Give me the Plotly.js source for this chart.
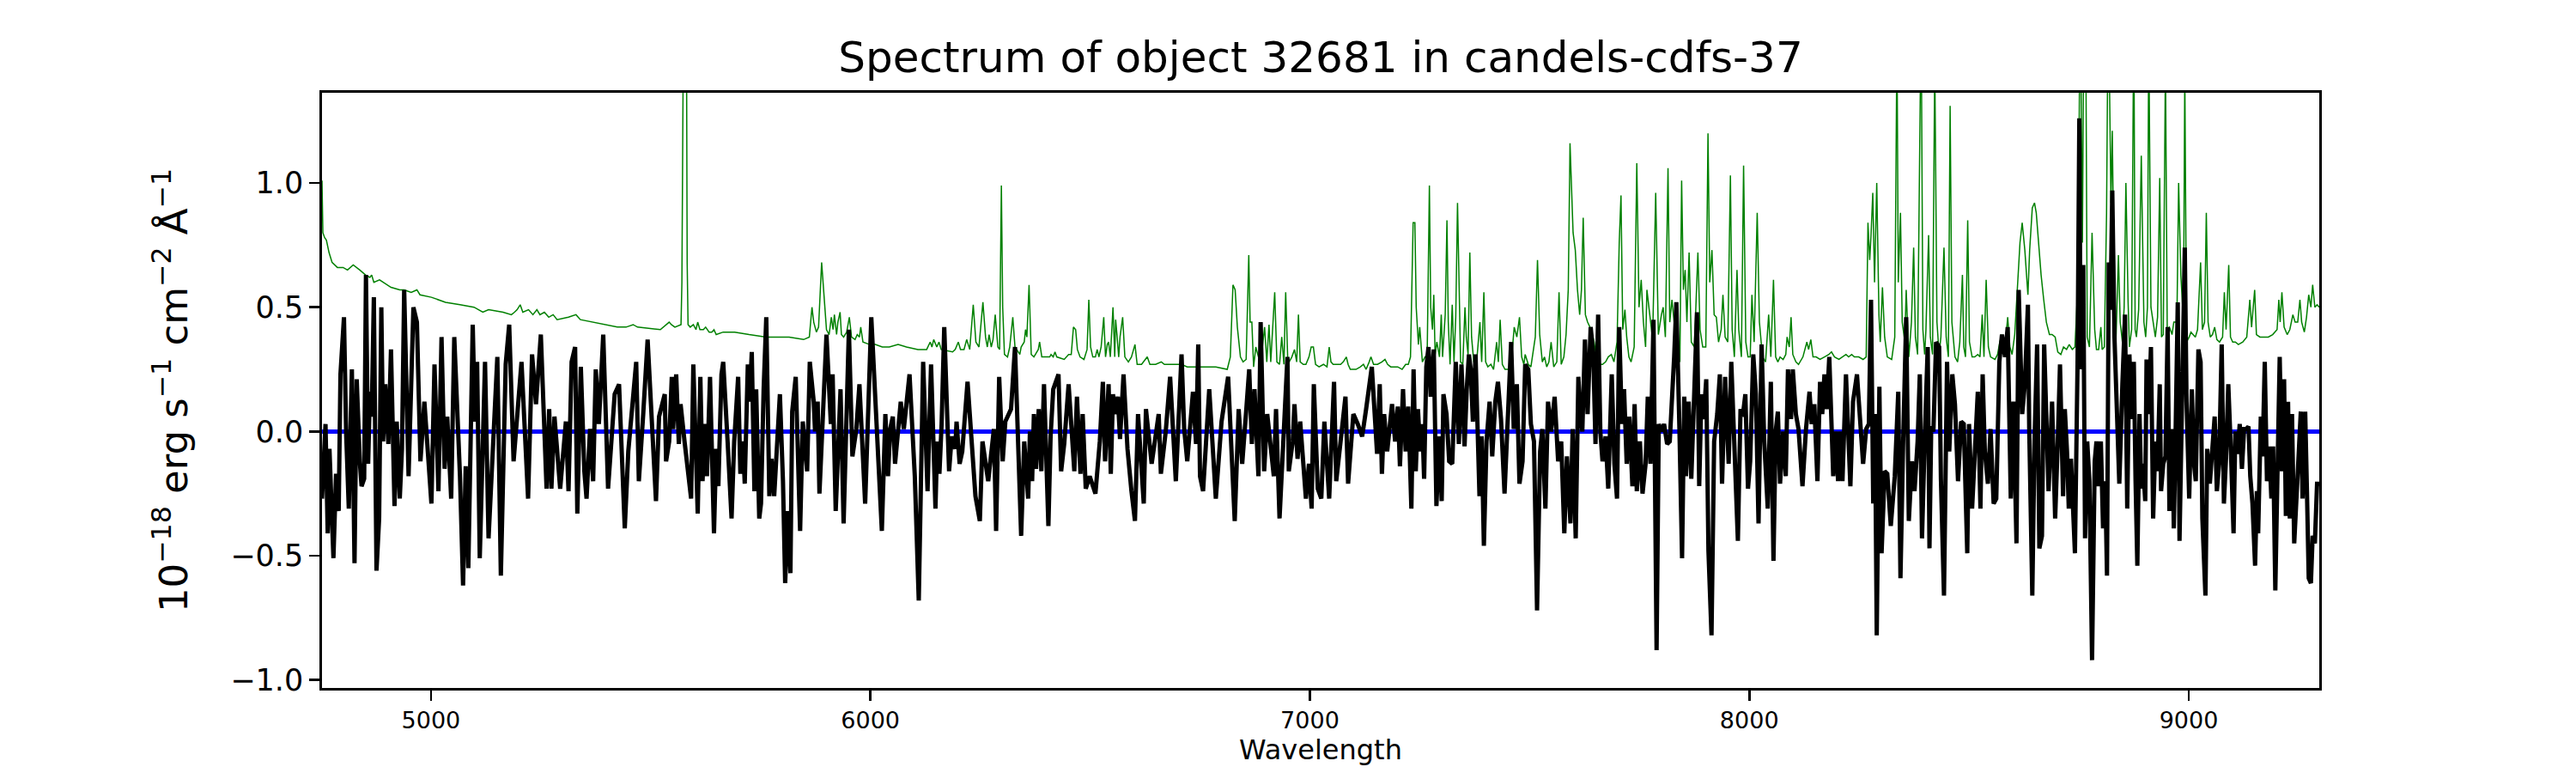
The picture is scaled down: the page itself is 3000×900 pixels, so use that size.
<!DOCTYPE html>
<html><head><meta charset="utf-8">
<script src="https://cdn.plot.ly/plotly-3.0.1.min.js"></script>
<style>html,body{margin:0;padding:0;background:#fff}</style>
</head><body><div id="chart" style="width:3000px;height:900px"></div>
<script>
// Observed flux (black), [wavelength Å, flux 1e-18 erg/s/cm2/Å]
const fluxPart1 = [[4752,-0.27],[4760,0.03],[4765,-0.41],[4769,-0.07],[4778,-0.51],[4784,-0.17],[4790,-0.32],[4794,0.23],[4802,0.46],[4807,-0.01],[4813,-0.31],[4820,0.25],[4826,-0.53],[4831,0.21],[4838,-0.12],[4842,-0.22],[4848,-0.19],[4852,0.63],[4857,-0.13],[4861,0.16],[4865,0.06],[4870,0.54],[4876,-0.56],[4882,-0.35],[4887,0.50],[4891,-0.04],[4896,0.19],[4903,-0.05],[4909,0.33],[4917,-0.30],[4922,0.04],[4929,-0.27],[4934,-0.07],[4939,0.57],[4949,-0.18],[4960,0.50],[4968,0.44],[4976,-0.12],[4985,0.12],[4991,-0.05],[5001,-0.29],[5008,0.27],[5017,-0.24],[5024,0.38],[5031,-0.15],[5037,0.06],[5046,-0.27],[5053,0.38],[5066,-0.18],[5073,-0.62],[5079,-0.14],[5085,-0.55],[5095,0.43],[5100,0.04],[5105,0.28],[5111,-0.51],[5123,0.28],[5131,-0.43],[5151,0.30],[5159,-0.58],[5170,0.27],[5178,0.43],[5188,-0.12],[5206,0.28],[5221,-0.27],[5230,0.31],[5239,0.11],[5250,0.39],[5263,-0.23],[5269,0.09],[5274,-0.23],[5281,0.06],[5294,-0.23],[5307,0.04],[5313,-0.24],[5320,0.28],[5328,0.34],[5333,-0.33],[5341,0.26],[5349,-0.16],[5354,-0.27],[5362,0.01],[5369,-0.20],[5375,0.25],[5382,0.03],[5392,0.39],[5403,-0.23],[5418,0.15],[5428,0.19],[5441,-0.39],[5449,-0.08],[5467,0.28],[5473,-0.20],[5483,0.07],[5493,0.37],[5512,-0.28],[5519,0.06],[5532,0.15],[5535,-0.12]];
const fluxPart2 = [[5542,-0.04],[5548,0.22],[5551,0.01],[5558,0.23],[5564,-0.05],[5568,0.11],[5577,-0.04],[5586,-0.20],[5592,-0.27],[5597,0.27],[5607,-0.33],[5613,0.22],[5618,-0.20],[5623,0.03],[5628,-0.18],[5635,0.22],[5644,-0.41],[5649,-0.07],[5654,-0.22],[5661,0.23],[5665,0.28],[5675,-0.04],[5684,-0.35],[5690,-0.04],[5699,0.22],[5704,-0.17],[5710,-0.04],[5714,-0.21],[5721,0.27],[5725,0.12],[5730,0.32],[5736,-0.24],[5740,0.17],[5747,-0.35],[5751,-0.29],[5757,0.17],[5763,0.46],[5770,-0.26],[5775,-0.11],[5781,-0.26],[5788,-0.05],[5794,0.15],[5801,-0.20],[5806,-0.61],[5812,-0.32],[5818,-0.57],[5822,0.08],[5830,0.22],[5840,-0.40],[5846,0.04],[5856,-0.16],[5862,0.28],[5871,0.12],[5874,0.00],[5880,0.12],[5884,-0.25],[5900,0.39],[5910,0.03],[5914,0.23],[5921,-0.32],[5932,0.17],[5939,-0.37],[5951,0.41],[5959,-0.10],[5968,0.01],[5975,0.19],[5988,-0.29],[6002,0.46],[6026,-0.40],[6034,0.07],[6040,-0.18],[6045,0.01],[6051,0.06],[6056,-0.13],[6069,0.12],[6076,0.01],[6089,0.23],[6101,-0.18],[6110,-0.68],[6120,0.28],[6130,-0.24],[6138,0.27],[6148,-0.31],[6152,-0.04],[6157,-0.17],[6162,0.03],[6168,0.42],[6179,-0.16],[6185,-0.02],[6193,-0.07],[6196,0.04],[6203,-0.13],[6209,-0.08],[6221,0.20],[6239,-0.26],[6249,-0.36],[6255,-0.04],[6268,-0.20],[6281,0.01],[6286,-0.40],[6293,0.22],[6301,-0.12],[6307,0.04],[6320,0.09],[6329,0.34]];
const fluxPart3 = [[6343,-0.42],[6350,-0.04],[6359,-0.27],[6363,0.00],[6368,-0.20],[6372,0.07],[6377,-0.15],[6383,0.09],[6389,-0.16],[6395,0.19],[6400,-0.13],[6405,-0.38],[6410,-0.02],[6416,0.17],[6428,0.23],[6434,-0.16],[6441,-0.05],[6451,0.19],[6464,-0.16],[6470,0.14],[6478,-0.17],[6483,0.07],[6490,-0.23],[6499,-0.18],[6512,-0.25],[6522,-0.04],[6529,0.20],[6534,-0.12],[6542,0.19],[6547,-0.17],[6552,0.15],[6557,0.07],[6563,0.14],[6568,-0.03],[6576,0.23],[6585,-0.07],[6594,-0.24],[6602,-0.36],[6609,0.07],[6622,-0.29],[6627,0.09],[6640,-0.13],[6656,0.07],[6661,-0.17],[6672,0.00],[6682,0.22],[6695,-0.20],[6708,0.31],[6714,0.01],[6721,-0.12],[6734,0.16],[6741,-0.05],[6746,0.35],[6750,-0.18],[6757,-0.24],[6771,0.17],[6786,-0.27],[6799,0.04],[6814,0.22],[6829,-0.36],[6838,0.09],[6846,-0.13],[6855,0.08],[6862,0.25],[6868,-0.05],[6874,0.17],[6883,-0.18],[6888,0.44],[6896,-0.16],[6903,0.07],[6918,-0.18],[6923,0.09],[6931,-0.35],[6937,-0.15],[6946,0.12],[6949,0.30],[6952,-0.16],[6961,-0.04],[6965,0.11],[6972,-0.11],[6978,0.04],[6991,-0.27],[6998,-0.13],[7004,-0.31],[7009,0.19],[7018,-0.23],[7026,-0.27],[7033,0.04],[7044,-0.27],[7055,0.20],[7060,-0.20],[7081,0.14],[7087,-0.21],[7099,0.07],[7109,0.03],[7119,-0.02],[7128,0.09],[7141,0.26]];
const fluxPart4 = [[7153,-0.09],[7159,0.19],[7164,-0.17],[7169,0.07],[7176,-0.08],[7181,0.01],[7187,0.11],[7194,-0.04],[7200,0.10],[7205,-0.14],[7212,0.17],[7218,-0.08],[7224,0.10],[7231,-0.31],[7236,0.25],[7241,-0.16],[7246,0.09],[7251,-0.08],[7256,0.03],[7260,-0.19],[7265,0.26],[7270,0.34],[7275,0.14],[7282,0.33],[7288,-0.30],[7295,-0.02],[7300,-0.28],[7304,0.15],[7311,0.07],[7317,-0.12],[7324,-0.13],[7332,0.28],[7339,-0.05],[7345,0.27],[7352,-0.06],[7357,0.17],[7362,0.31],[7366,0.25],[7371,0.04],[7377,0.31],[7386,-0.26],[7391,-0.02],[7396,-0.46],[7402,-0.04],[7409,0.12],[7415,-0.10],[7422,0.12],[7428,0.20],[7435,0.05],[7443,-0.25],[7450,0.04],[7458,0.36],[7464,0.01],[7471,0.19],[7477,-0.21],[7484,-0.12],[7490,0.27],[7497,0.25],[7503,0.03],[7510,-0.04],[7517,-0.72],[7524,-0.08],[7529,0.01],[7536,-0.31],[7542,0.12],[7549,0.00],[7557,0.14],[7565,-0.12],[7572,-0.04],[7579,-0.41],[7585,-0.10],[7593,-0.37],[7598,0.01],[7605,-0.43],[7611,0.22],[7615,0.07],[7620,0.00],[7626,0.37],[7632,0.07],[7639,0.42],[7645,0.31],[7650,-0.05],[7656,0.47],[7661,0.00],[7666,-0.12],[7673,-0.02],[7679,-0.23],[7687,0.23],[7693,-0.13],[7699,-0.27],[7704,0.42],[7710,0.03],[7715,0.17],[7721,-0.13],[7727,0.06],[7734,-0.22],[7739,0.11],[7744,-0.24],[7751,-0.04],[7757,-0.25],[7764,-0.13],[7769,0.14],[7775,-0.13],[7782,0.45],[7789,-0.88],[7794,0.03],[7800,0.00],[7806,0.03],[7813,-0.05],[7819,-0.04],[7829,0.30],[7834,0.52],[7841,0.01],[7847,-0.51],[7852,0.14],[7856,-0.18],[7862,0.12],[7868,-0.19],[7875,0.17],[7881,0.48],[7886,-0.22],[7891,0.15],[7896,0.05],[7902,0.21],[7907,-0.48],[7914,-0.82],[7920,-0.04],[7927,0.07],[7933,0.23],[7938,-0.21],[7945,0.22],[7953,-0.13]];
const fluxPart5 = [[7959,0.28],[7966,-0.05],[7974,-0.44],[7980,0.09],[7985,0.06],[7991,0.15],[7997,-0.23],[8002,-0.12],[8009,0.31],[8015,0.15],[8021,-0.37],[8028,0.35],[8034,-0.04],[8042,-0.31],[8049,0.20],[8055,-0.52],[8060,0.00],[8065,0.08],[8070,-0.21],[8077,0.00],[8083,-0.18],[8088,0.25],[8095,0.05],[8099,0.25],[8106,0.07],[8112,0.01],[8121,-0.22],[8129,0.01],[8137,0.16],[8142,0.03],[8148,0.11],[8155,-0.20],[8161,0.20],[8166,0.07],[8171,0.23],[8176,0.09],[8182,0.30],[8191,-0.18],[8197,0.00],[8202,-0.20],[8207,0.00],[8212,-0.20],[8220,0.23],[8230,-0.22],[8236,0.12],[8245,0.23],[8253,0.03],[8259,-0.13],[8266,0.01],[8272,0.03],[8277,0.53],[8282,-0.29],[8286,0.07],[8290,-0.82],[8296,0.18],[8301,-0.49],[8308,-0.16],[8314,-0.17],[8322,-0.38],[8331,-0.18],[8339,0.16],[8344,-0.59],[8350,-0.05],[8357,0.46],[8363,-0.36],[8370,-0.12],[8376,-0.24],[8383,-0.04],[8388,0.23],[8393,-0.43],[8399,-0.04],[8406,0.34],[8410,-0.47],[8414,0.02],[8419,0.00],[8425,0.36],[8432,0.34],[8436,-0.19],[8443,-0.66],[8450,0.28],[8455,-0.08],[8462,0.23],[8468,0.11],[8475,-0.20],[8482,0.04],[8488,0.03],[8496,-0.49],[8500,0.03],[8507,-0.31],[8513,-0.08],[8520,0.16],[8526,-0.31],[8531,0.23],[8536,-0.08],[8543,-0.21],[8549,0.01],[8556,-0.29],[8562,-0.27],[8569,0.28],[8575,0.39],[8582,0.30],[8588,0.42],[8595,-0.27],[8601,0.12],[8608,-0.45],[8613,0.57],[8621,0.07],[8627,0.19],[8634,0.51],[8637,0.01],[8644,-0.66],[8649,-0.04],[8655,0.35],[8660,-0.47],[8666,-0.42],[8671,0.35],[8676,0.01],[8681,-0.24],[8689,0.12],[8696,-0.35],[8702,-0.04],[8707,0.27]];
const fluxPart6 = [[8714,-0.26],[8718,0.09],[8723,-0.08],[8727,-0.31],[8732,-0.11],[8736,-0.26],[8741,-0.49],[8747,0.28],[8751,1.26],[8754,0.25],[8760,0.67],[8764,-0.43],[8769,-0.04],[8774,-0.20],[8780,-0.92],[8786,-0.12],[8790,-0.04],[8795,-0.22],[8800,-0.04],[8805,-0.39],[8810,-0.20],[8814,-0.58],[8818,0.68],[8822,0.49],[8826,0.97],[8831,0.38],[8836,0.04],[8842,-0.21],[8849,0.19],[8855,0.47],[8860,-0.31],[8865,0.31],[8870,0.05],[8875,0.28],[8879,-0.20],[8883,-0.54],[8888,0.07],[8892,-0.23],[8896,-0.13],[8901,-0.28],[8904,0.29],[8909,0.07],[8914,0.34],[8919,-0.35],[8924,-0.04],[8929,-0.16],[8934,0.19],[8937,-0.24],[8942,-0.13],[8947,-0.10],[8952,0.42],[8956,-0.32],[8963,0.01],[8966,-0.39],[8969,-0.12],[8975,0.52],[8979,-0.44],[8986,0.15],[8991,0.74],[8995,0.12],[9001,-0.27],[9007,0.17],[9012,-0.13],[9016,-0.20],[9022,0.33],[9027,0.28],[9031,-0.35],[9038,-0.66],[9042,-0.07],[9048,-0.21],[9053,-0.07],[9059,0.06],[9064,-0.24],[9069,-0.13],[9075,0.35],[9080,-0.29],[9085,-0.10],[9090,0.19],[9096,-0.08],[9102,-0.41],[9106,0.00],[9111,-0.09],[9116,0.03],[9121,-0.15],[9126,0.01],[9131,0.01],[9136,0.02],[9140,-0.18],[9145,-0.29],[9151,-0.54],[9155,-0.24],[9158,-0.41],[9164,0.06],[9168,-0.10],[9173,0.28],[9178,-0.20],[9183,-0.06],[9188,-0.27],[9192,-0.06],[9197,-0.64],[9202,-0.16],[9207,0.30],[9212,-0.16],[9217,0.21],[9221,-0.34],[9226,0.12],[9230,-0.35],[9235,0.07],[9240,-0.45],[9246,-0.24],[9255,0.08],[9259,-0.27],[9265,0.08],[9269,-0.24],[9273,-0.59],[9278,-0.61],[9282,-0.42],[9287,-0.45],[9292,-0.21],[9297,-0.21]];

// Noise / sky spectrum (green)
const skyPart1 = [[4752,1.01],[4754,0.80],[4758,0.78],[4762,0.77],[4768,0.72],[4775,0.68],[4787,0.66],[4800,0.66],[4810,0.65],[4823,0.67],[4838,0.65],[4851,0.63],[4861,0.62],[4865,0.63],[4870,0.60],[4883,0.61],[4909,0.58],[4929,0.57],[4939,0.57],[4955,0.56],[4968,0.57],[4975,0.55],[5001,0.54],[5033,0.52],[5066,0.51],[5098,0.50],[5118,0.48],[5131,0.49],[5164,0.48],[5183,0.47],[5190,0.48],[5196,0.49],[5203,0.51],[5209,0.48],[5222,0.49],[5232,0.47],[5241,0.49],[5248,0.47],[5258,0.48],[5268,0.46],[5278,0.47],[5287,0.45],[5313,0.46],[5330,0.47],[5340,0.45],[5366,0.44],[5392,0.43],[5424,0.42],[5444,0.42],[5460,0.43],[5470,0.42],[5522,0.41],[5542,0.44]];
const skyPart2 = [[5547,0.43],[5555,0.42],[5569,0.43],[5571,0.60],[5574,3.0],[5579,3.0],[5583,0.68],[5585,0.43],[5590,0.42],[5597,0.43],[5603,0.41],[5607,0.44],[5612,0.41],[5620,0.41],[5625,0.42],[5633,0.40],[5639,0.40],[5644,0.41],[5649,0.39],[5665,0.40],[5672,0.40],[5691,0.40],[5724,0.39],[5763,0.38],[5789,0.38],[5815,0.38],[5848,0.37],[5861,0.38],[5867,0.50],[5871,0.44],[5877,0.40],[5882,0.42],[5889,0.68],[5891,0.63],[5895,0.50],[5900,0.41],[5906,0.39],[5911,0.46],[5915,0.41],[5918,0.47],[5923,0.39],[5926,0.44],[5931,0.48],[5934,0.39],[5939,0.38],[5946,0.40],[5952,0.46],[5957,0.38],[5965,0.37],[5970,0.39],[5975,0.38],[5978,0.42],[5983,0.36],[5998,0.35],[6011,0.35],[6027,0.34],[6043,0.34],[6063,0.35],[6082,0.34],[6108,0.33],[6128,0.33],[6136,0.36],[6140,0.34],[6144,0.37],[6151,0.34],[6156,0.36],[6161,0.33],[6187,0.32],[6193,0.33],[6200,0.36],[6205,0.33],[6213,0.33],[6219,0.37],[6226,0.33],[6234,0.51],[6240,0.36],[6247,0.34],[6256,0.52],[6262,0.38],[6266,0.34],[6270,0.39],[6275,0.34],[6279,0.37],[6284,0.47],[6290,0.34],[6294,0.33],[6298,0.99],[6301,0.50],[6305,0.31],[6312,0.30],[6317,0.34],[6324,0.46],[6329,0.34],[6333,0.33],[6340,0.31]];
const skyPart3 = [[6343,0.34],[6350,0.36],[6353,0.41],[6356,0.38],[6361,0.59],[6366,0.31],[6372,0.30],[6382,0.33],[6385,0.36],[6390,0.30],[6402,0.30],[6408,0.30],[6411,0.31],[6416,0.30],[6420,0.32],[6424,0.30],[6441,0.29],[6451,0.31],[6457,0.31],[6462,0.42],[6467,0.41],[6471,0.33],[6477,0.30],[6486,0.29],[6493,0.33],[6497,0.53],[6501,0.34],[6506,0.30],[6512,0.30],[6516,0.33],[6520,0.30],[6525,0.34],[6531,0.46],[6535,0.30],[6539,0.35],[6542,0.36],[6546,0.30],[6552,0.50],[6556,0.30],[6558,0.45],[6561,0.39],[6565,0.30],[6568,0.38],[6574,0.46],[6579,0.30],[6587,0.28],[6594,0.30],[6602,0.35],[6607,0.27],[6617,0.27],[6630,0.30],[6636,0.27],[6649,0.27],[6662,0.28],[6669,0.27],[6682,0.27],[6695,0.27],[6708,0.27],[6721,0.26],[6734,0.26],[6747,0.26],[6786,0.26],[6812,0.25],[6819,0.30],[6825,0.59],[6830,0.57],[6835,0.42],[6842,0.30],[6848,0.28],[6855,0.29],[6861,0.71],[6864,0.44],[6868,0.44],[6872,0.26],[6877,0.34],[6883,0.30],[6887,0.31],[6892,0.34],[6897,0.42],[6902,0.28],[6907,0.43],[6911,0.28],[6920,0.56],[6925,0.28],[6931,0.27],[6936,0.38],[6941,0.27],[6945,0.56],[6950,0.27],[6959,0.30],[6965,0.33],[6970,0.28],[6974,0.47],[6978,0.28],[6985,0.27],[6991,0.27],[6998,0.30],[7003,0.34],[7008,0.34],[7013,0.27],[7021,0.26],[7031,0.27],[7039,0.26],[7044,0.34],[7048,0.28],[7053,0.27],[7060,0.27],[7070,0.27],[7076,0.28],[7083,0.30],[7087,0.27],[7092,0.25],[7105,0.25],[7115,0.26],[7122,0.27],[7128,0.25],[7135,0.28],[7139,0.30]];
const skyPart4 = [[7145,0.27],[7154,0.27],[7164,0.28],[7171,0.29],[7177,0.27],[7184,0.26],[7190,0.26],[7200,0.26],[7210,0.25],[7218,0.27],[7224,0.27],[7229,0.30],[7235,0.84],[7239,0.84],[7242,0.50],[7247,0.35],[7250,0.42],[7256,0.28],[7262,0.30],[7267,0.31],[7272,0.99],[7275,0.50],[7279,0.41],[7282,0.55],[7285,0.31],[7289,0.36],[7295,0.30],[7299,0.47],[7302,0.30],[7308,0.47],[7312,0.85],[7315,0.44],[7319,0.27],[7324,0.51],[7328,0.28],[7332,0.46],[7336,0.92],[7340,0.50],[7343,0.28],[7348,0.27],[7353,0.50],[7356,0.38],[7360,0.31],[7364,0.72],[7368,0.38],[7373,0.28],[7379,0.27],[7387,0.44],[7391,0.28],[7396,0.56],[7400,0.28],[7405,0.26],[7412,0.27],[7418,0.25],[7425,0.36],[7429,0.28],[7433,0.45],[7438,0.27],[7444,0.25],[7457,0.25],[7465,0.42],[7471,0.38],[7477,0.46],[7482,0.30],[7487,0.27],[7490,0.31],[7497,0.27],[7503,0.26],[7513,0.38],[7518,0.69],[7523,0.39],[7529,0.28],[7534,0.30],[7539,0.26],[7544,0.28],[7549,0.36],[7555,0.26],[7562,0.28],[7567,0.56],[7572,0.27],[7578,0.30],[7583,0.39],[7588,0.57],[7592,1.16],[7596,0.92],[7599,0.80],[7604,0.73],[7609,0.57],[7614,0.47],[7618,0.57],[7622,0.86],[7627,0.47],[7632,0.44],[7640,0.41],[7647,0.36],[7653,0.28],[7660,0.27],[7666,0.27],[7673,0.28],[7679,0.30],[7686,0.31],[7692,0.28],[7699,0.36],[7704,0.76],[7708,0.95],[7712,0.41],[7717,0.49],[7721,0.38],[7726,0.30],[7731,0.28],[7738,0.34],[7744,1.08],[7749,0.50],[7754,0.61],[7759,0.44],[7764,0.34],[7767,0.57],[7770,0.52],[7776,0.42],[7780,0.37],[7787,0.96],[7790,0.60],[7793,0.39],[7800,0.47],[7804,0.50],[7809,0.38],[7815,1.06],[7819,0.44],[7824,0.53],[7829,0.44],[7834,0.36],[7839,0.31],[7842,0.28],[7846,1.01],[7850,0.57],[7854,0.65],[7858,0.44],[7863,0.72],[7868,0.36],[7875,0.34],[7883,0.72],[7888,0.41],[7894,0.34],[7901,0.34],[7906,1.20],[7910,0.60],[7915,0.73],[7920,0.47],[7925,0.46],[7930,0.36],[7936,0.41],[7940,0.55],[7945,0.38]];
const skyPart5 = [[7951,0.36],[7957,1.03],[7961,0.41],[7966,0.30],[7972,0.65],[7976,0.41],[7982,0.30],[7987,1.07],[7992,0.36],[7997,0.30],[8002,0.30],[8006,0.55],[8011,0.36],[8018,0.88],[8023,0.44],[8030,0.30],[8037,0.28],[8044,0.47],[8049,0.30],[8055,0.61],[8060,0.30],[8065,0.28],[8070,0.30],[8077,0.29],[8083,0.31],[8086,0.38],[8091,0.34],[8095,0.46],[8099,0.31],[8106,0.28],[8112,0.27],[8122,0.30],[8131,0.36],[8135,0.33],[8140,0.37],[8145,0.30],[8152,0.30],[8161,0.29],[8171,0.30],[8181,0.31],[8187,0.32],[8194,0.30],[8204,0.29],[8213,0.30],[8220,0.31],[8226,0.30],[8233,0.31],[8239,0.30],[8249,0.30],[8259,0.29],[8266,0.30],[8270,0.84],[8274,0.69],[8277,0.79],[8281,0.96],[8285,0.60],[8290,1.00],[8295,0.47],[8298,0.36],[8303,0.58],[8308,0.38],[8314,0.30],[8324,0.29],[8331,0.38],[8336,1.6],[8339,0.60],[8344,0.88],[8348,0.44],[8354,0.36],[8357,0.57],[8363,0.30],[8369,0.44],[8374,0.74],[8378,0.38],[8383,0.31],[8391,1.7],[8395,0.41],[8399,0.31],[8402,0.41],[8408,0.79],[8412,0.38],[8417,0.31],[8422,1.5],[8427,0.44],[8432,0.31],[8436,0.38],[8443,0.74],[8448,0.38],[8453,0.30],[8457,1.31],[8461,0.44],[8468,0.30],[8474,0.28],[8479,0.36],[8485,0.63],[8488,0.34],[8492,0.30],[8497,0.85],[8501,0.36],[8507,0.30],[8513,0.30],[8520,0.31],[8525,0.30],[8530,0.47],[8534,0.30],[8539,0.61],[8544,0.34],[8549,0.30],[8559,0.29],[8565,0.31],[8570,0.36],[8575,0.39],[8578,0.31],[8584,0.38],[8588,0.46],[8593,0.34],[8598,0.31],[8604,0.39],[8611,0.60],[8616,0.76],[8621,0.84],[8627,0.73],[8634,0.55],[8638,0.73],[8644,0.90],[8649,0.92],[8653,0.88],[8658,0.76],[8664,0.63],[8670,0.53],[8676,0.44],[8683,0.39],[8689,0.39],[8696,0.38],[8702,0.32],[8709,0.31],[8715,0.34],[8722,0.33],[8728,0.35],[8735,0.33],[8741,0.34]];
const skyPart6 = [[8748,0.60],[8753,1.8],[8758,0.76],[8761,1.6],[8766,1.5],[8769,0.38],[8774,0.34],[8780,0.80],[8786,0.41],[8790,0.33],[8795,0.33],[8800,0.42],[8803,0.33],[8808,0.34],[8813,0.88],[8816,1.6],[8819,1.5],[8823,0.92],[8826,1.21],[8829,0.76],[8834,0.34],[8840,0.71],[8844,0.44],[8849,0.36],[8853,0.50],[8857,1.00],[8862,0.52],[8865,0.34],[8870,0.41],[8875,1.7],[8878,0.41],[8881,0.38],[8886,0.49],[8892,1.11],[8898,0.44],[8902,0.38],[8906,0.50],[8909,1.6],[8914,0.50],[8919,0.44],[8924,0.38],[8929,0.46],[8934,1.02],[8938,0.38],[8942,0.39],[8947,1.5],[8951,0.41],[8956,0.42],[8962,0.39],[8966,0.44],[8973,0.44],[8977,1.00],[8982,0.63],[8988,0.44],[8991,1.45],[8995,0.36],[9001,0.38],[9005,0.40],[9010,0.39],[9015,0.38],[9020,0.41],[9027,0.68],[9031,0.41],[9036,0.44],[9040,0.88],[9044,0.44],[9049,0.38],[9054,0.39],[9059,0.42],[9064,0.37],[9070,0.36],[9077,0.38],[9081,0.56],[9085,0.41],[9091,0.67],[9095,0.38],[9100,0.36],[9106,0.36],[9113,0.35],[9123,0.36],[9132,0.38],[9139,0.53],[9143,0.42],[9150,0.57],[9154,0.39],[9162,0.38],[9171,0.38],[9181,0.38],[9191,0.39],[9201,0.41],[9205,0.53],[9208,0.44],[9212,0.56],[9217,0.42],[9224,0.39],[9230,0.41],[9237,0.47],[9242,0.44],[9248,0.44],[9253,0.53],[9257,0.44],[9263,0.40],[9268,0.46],[9273,0.55],[9278,0.50],[9282,0.59],[9287,0.50],[9292,0.51],[9297,0.50]];

// Zero level (blue)
const zeroWave = [4752, 9297];
const zeroFlux = [0, 0];

const xTickVals = [5000, 6000, 7000, 8000, 9000];
const yTickVals = [-1.0, -0.5, 0.0, 0.5, 1.0];
const yLimits = [-1.032, 1.363];

const titleText = 'Spectrum of object 32681 in candels-cdfs-37';
const xLabel = 'Wavelength';
const yLabel = '10<sup>\u221218</sup> erg s<sup>\u22121</sup> cm<sup>\u22122</sup> \u00c5<sup>\u22121</sup>';

const flux = [].concat(fluxPart1, fluxPart2, fluxPart3, fluxPart4, fluxPart5, fluxPart6);
const sky = [].concat(skyPart1, skyPart2, skyPart3, skyPart4, skyPart5, skyPart6);

const allWave = flux.map(p => p[0]).concat(sky.map(p => p[0]));
const xLimits = [Math.min(...allWave), Math.max(...allWave)];

const FONT = 'DejaVu Sans, Verdana, sans-serif';

const traces = [
  { x: sky.map(p => p[0]), y: sky.map(p => p[1]), type: 'scatter', mode: 'lines',
    line: { color: '#008000', width: 1.5 }, hoverinfo: 'skip', showlegend: false },
  { x: zeroWave, y: zeroFlux, type: 'scatter', mode: 'lines',
    line: { color: '#0000ff', width: 5 }, hoverinfo: 'skip', showlegend: false },
  { x: flux.map(p => p[0]), y: flux.map(p => p[1]), type: 'scatter', mode: 'lines',
    line: { color: '#000000', width: 5, shape: 'linear' }, hoverinfo: 'skip', showlegend: false }
];

const layout = {
  width: 3000, height: 900,
  paper_bgcolor: '#ffffff', plot_bgcolor: '#ffffff',
  margin: { l: 375, r: 299, t: 108, b: 99, pad: 0 },
  font: { family: FONT, color: '#000000' },
  showlegend: false,
  title: { text: titleText, font: { family: FONT, size: 50, color: '#000' },
           xref: 'paper', x: 0.5, xanchor: 'center', yref: 'container', y: 1 - 66/900, yanchor: 'middle' },
  xaxis: {
    range: xLimits, tickmode: 'array', tickvals: xTickVals, ticktext: xTickVals.map(String),
    ticks: 'outside', ticklen: 12, tickwidth: 2.8, tickcolor: '#000',
    showline: true, mirror: true, linecolor: '#000', linewidth: 2.8,
    showgrid: false, zeroline: false, automargin: false,
    tickfont: { family: FONT, size: 27, color: '#000' },
    title: { text: xLabel, font: { family: FONT, size: 32, color: '#000' }, standoff: 8 }
  },
  yaxis: {
    range: yLimits, tickmode: 'array', tickvals: yTickVals, tickformat: '.1f',
    ticks: 'outside', ticklen: 12, tickwidth: 2.8, tickcolor: '#000',
    showline: true, mirror: true, linecolor: '#000', linewidth: 2.8,
    showgrid: false, zeroline: false, automargin: false,
    tickfont: { family: FONT, size: 35, color: '#000' },
    title: { text: yLabel, font: { family: FONT, size: 45, color: '#000' }, standoff: 36 }
  }
};

Plotly.newPlot('chart', traces, layout, { displayModeBar: false, staticPlot: true });
</script>
</body></html>
